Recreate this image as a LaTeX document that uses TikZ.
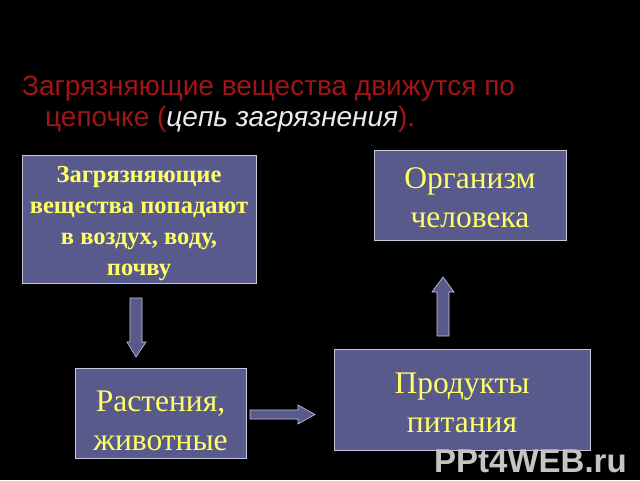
\documentclass[tikz,border=0pt]{standalone}
\usepackage{fontspec}
\setmainfont{Liberation Serif}
\newfontfamily\titlefont{Liberation Sans}
\definecolor{boxfill}{HTML}{595A8C}
\definecolor{boxline}{HTML}{C8C8D8}
\definecolor{txtyellow}{HTML}{FFFF66}
\definecolor{titlered}{HTML}{A01515}
\definecolor{wm}{HTML}{C4C4C4}
\tikzset{
  blk/.style={draw=boxline, line width=0.8pt, fill=boxfill, minimum width=#1, inner sep=0pt},
  blktext/.style={text=txtyellow, align=center, inner sep=0pt, font=\fontsize{31.5}{39}\selectfont},
  blkarrow/.style={draw=boxline, line width=0.6pt, fill=boxfill},
}
\begin{document}
\begin{tikzpicture}[x=1pt,y=-1pt]
\fill[black] (0,0) rectangle (640,480);
\useasboundingbox (0,0) rectangle (640,480);
% title
\node[anchor=base west, inner sep=0pt, text=titlered, font=\titlefont\fontsize{28}{28}\selectfont] (t1) at (22,95) {Загрязняющие вещества движутся по};
\node[anchor=base west, inner sep=0pt, text=titlered, font=\titlefont\fontsize{28}{28}\selectfont] (t2) at (45,126) {цепочке (\textcolor{white!92!black}{\itshape цепь загрязнения}).};
% boxes
\node[blk=234pt, minimum height=128pt] (b1) at (139,219) {};
\node[blktext, font=\bfseries\fontsize{24.5}{31}\selectfont] (b1t) at (139,224) {Загрязняющие\\ вещества попадают\\ в воздух, воду,\\ почву};
\node[blk=192pt, minimum height=90pt] (b2) at (470,195) {};
\node[blktext] (b2t) at (470,198) {Организм\\ человека};
\node[blk=171pt, minimum height=90pt] (b3) at (160.5,413) {};
\node[blktext] (b3t) at (160.5,421) {Растения,\\ животные};
\node[blk=256pt, minimum height=101pt] (b4) at (462,399.5) {};
\node[blktext] (b4t) at (462,403) {Продукты\\ питания};
% block arrows
\draw[blkarrow] (130,298) -- (142,298) -- (142,342) -- (146,342) -- (136,357) -- (127,342) -- (130,342) -- cycle;
\draw[blkarrow] (250,410) -- (298,410) -- (298,405) -- (315,414.5) -- (298,424) -- (298,419) -- (250,419) -- cycle;
\draw[blkarrow] (437,336) -- (437,292) -- (432,292) -- (443,277) -- (454,292) -- (449,292) -- (449,336) -- cycle;
% watermark
\node[anchor=base west, inner sep=0pt, text=wm, font=\titlefont\bfseries\fontsize{33}{33}\selectfont] (w) at (434,472) {PPt4WEB.ru};
\end{tikzpicture}
\end{document}
